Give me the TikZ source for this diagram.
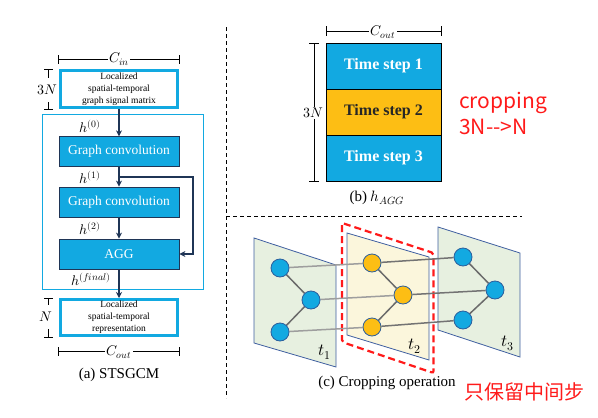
\documentclass[tikz,border=0pt]{standalone}
\usepackage{fontspec}
\usepackage{unicode-math}
\setmainfont{Liberation Serif}
\setmathfont{Latin Modern Math}
\newfontfamily\cjk{Noto Sans CJK SC}
\usetikzlibrary{arrows.meta,calc}
\definecolor{cyanb}{HTML}{12A9E1}
\definecolor{navy}{HTML}{1F3556}
\definecolor{orng}{HTML}{FDBE14}
\definecolor{planeb}{HTML}{3F5FA0}
\definecolor{pgreen}{HTML}{E7F0E0}
\definecolor{pyellow}{HTML}{FBF6DC}
\definecolor{nodeb}{HTML}{2B5E9C}
\definecolor{redt}{HTML}{FF1A1A}
\pgfdeclarelayer{planes}
\pgfdeclarelayer{edges}
\pgfsetlayers{planes,edges,main}
\begin{document}
\begin{tikzpicture}[x=1pt,y=-1pt,
  iobox/.style={draw=cyanb, line width=3pt, fill=white, minimum width=117pt, align=center, font=\fontsize{9.5}{11.8}\selectfont, inner sep=0pt},
  procbox/.style={draw=navy, line width=0.8pt, fill=cyanb, minimum width=120pt, minimum height=29.5pt, text=white, font=\fontsize{13.5}{15}\selectfont, inner sep=0pt},
  flow/.style={draw=navy, line width=1.6pt, -{Stealth[length=6pt,width=6pt]}},
  dimln/.style={line width=0.7pt, draw=black},
  dimlbl/.style={fill=white, inner sep=1.5pt, font=\fontsize{14}{14}\selectfont},
  hlbl/.style={font=\fontsize{14}{14}\selectfont},
  stepbox/.style={draw=black, line width=0.6pt, minimum width=115pt, minimum height=46pt, font=\bfseries\fontsize{16}{16}\selectfont, inner sep=0pt},
  plane/.style={draw=planeb, line width=0.8pt},
  gnode/.style={circle, draw=nodeb, line width=0.8pt, minimum size=18pt, inner sep=0pt},
  link/.style={draw=black!58, line width=1.5pt},
  crossA/.style={draw=black!38, line width=1.5pt},
  crossB/.style={draw=black!55, line width=1.5pt},
  caption/.style={font=\fontsize{15}{15}\selectfont},
  divider/.style={line width=0.8pt, dash pattern=on 4pt off 3pt},
  redlbl/.style={text=redt, font=\cjk\fontsize{21}{26}\selectfont, align=left, anchor=west, inner sep=0pt}
]
\useasboundingbox (0,0) rectangle (598,418);

% ---------------- (a) STSGCM ----------------
\draw[cyanb, line width=1pt] (42,114) rectangle (203,289);
\node[iobox, minimum height=37pt] (in) at (119,89) {Localized\\spatial-temporal\\graph signal matrix};
\node[procbox] (gc1) at (119,151.5) {Graph convolution};
\node[procbox, minimum height=30pt] (gc2) at (119,202) {Graph convolution};
\node[procbox, minimum height=30pt] (agg) at (119,254) {AGG};
\node[iobox, minimum height=36pt] (out) at (119,317.5) {Localized\\spatial-temporal\\representation};
\draw[flow] (in) -- (gc1);
\draw[flow] (gc1) -- (gc2);
\draw[flow] (gc2) -- (agg);
\draw[flow] (agg) -- (out);
\coordinate (split) at (119,177);
\draw[flow] (split) -- (193,177) |- (agg.east);
\node[hlbl] (h0) at (90,126) {$h^{(0)}$};
\node[hlbl] (h1) at (90,177) {$h^{(1)}$};
\node[hlbl] (h2) at (90,228) {$h^{(2)}$};
\node[hlbl] (hf) at (91,279) {$h^{(final)}$};

\draw[dimln] (58,55) -- (58,64) (179,55) -- (179,64) (58,59.5) -- (179,59.5);
\node[dimlbl] (cin) at (119,59) {$C_{in}$};
\draw[dimln] (44,69) -- (53,69) (44,109) -- (53,109) (48.5,69) -- (48.5,109);
\node[dimlbl, inner ysep=7pt] (n3a) at (47,90) {$3N$};
\draw[dimln] (44,298) -- (53,298) (44,337) -- (53,337) (48.5,298) -- (48.5,337);
\node[dimlbl, inner ysep=7pt] (n1a) at (46,317) {$N$};
\draw[dimln] (58,347) -- (58,356) (179,347) -- (179,356) (58,351.5) -- (179,351.5);
\node[dimlbl] (couta) at (119,352) {$C_{out}$};
\node[caption] (capa) at (119,375) {(a) STSGCM};

% ---------------- dividers ----------------
\draw[divider] (226,27) -- (226,398);
\draw[divider] (226,216) -- (522,216);

% ---------------- (b) h_AGG ----------------
\node[stepbox, fill=cyanb, text=white] (ts1) at (383.5,66) {Time step 1};
\node[stepbox, fill=orng, text=black!85] (ts2) at (383.5,112) {Time step 2};
\node[stepbox, fill=cyanb, text=white] (ts3) at (383.5,158) {Time step 3};
\draw[dimln] (326,26) -- (326,36) (441,26) -- (441,36) (326,31) -- (441,31);
\node[dimlbl] (coutb) at (383,32) {$C_{out}$};
\draw[dimln] (309,43) -- (319,43) (309,181) -- (319,181) (314,43) -- (314,181);
\node[dimlbl, inner ysep=1pt] (n3b) at (313,113) {$3N$};
\node[caption] (capb) at (377,198) {(b) $h_{AGG}$};
\node[redlbl] (crop) at (459,113) {cropping\\3N-\kern0pt-\kern0pt>N};

% ---------------- (c) cropping ----------------
\begin{pgfonlayer}{planes}
\draw[plane, fill=pgreen] (254,238) -- (336,265) -- (336,367) -- (254,343) -- cycle;
\draw[plane, fill=pyellow] (347,233) -- (429,257) -- (429,360) -- (347,335) -- cycle;
\draw[plane, fill=pgreen] (438,227) -- (520,253) -- (520,357) -- (438,330) -- cycle;
\draw[redt, line width=2.2pt, dash pattern=on 7pt off 4pt, rounded corners=2pt] (342,223) -- (433.5,253) -- (433.5,373) -- (342,342) -- cycle;
\end{pgfonlayer}

\node[gnode, fill=cyanb] (a1) at (280,268) {};
\node[gnode, fill=cyanb] (a2) at (311,300) {};
\node[gnode, fill=cyanb] (a3) at (280,332) {};
\node[gnode, fill=orng] (b1) at (372,263) {};
\node[gnode, fill=orng] (b2) at (403,295) {};
\node[gnode, fill=orng] (b3) at (372,327) {};
\node[gnode, fill=cyanb] (c1) at (463,257) {};
\node[gnode, fill=cyanb] (c2) at (495,290) {};
\node[gnode, fill=cyanb] (c3) at (463,320) {};

\begin{pgfonlayer}{edges}
\draw[crossA] (a1) -- (b1);
\draw[crossA] (a2) -- (b2);
\draw[crossA] (a3) -- (b3);
\draw[crossB] (b1) -- (c1);
\draw[crossB] (b2) -- (c2);
\draw[crossB] (b3) -- (c3);
\draw[link] (a1) -- (a2) -- (a3);
\draw[link] (b1) -- (b2) -- (b3);
\draw[link] (c1) -- (c2) -- (c3);
\end{pgfonlayer}

\node[font=\fontsize{17}{17}\selectfont] (t1) at (325,352) {$t_1$};
\node[font=\fontsize{17}{17}\selectfont] (t2) at (415,346) {$t_2$};
\node[font=\fontsize{17}{17}\selectfont] (t3) at (508,343) {$t_3$};
\node[caption] (capc) at (387,383) {(c) Cropping operation};
\node[text=redt, font=\cjk\fontsize{20}{20}\selectfont, anchor=west, inner sep=0pt] (keep) at (464,392) {只保留中间步};
\end{tikzpicture}
\end{document}
